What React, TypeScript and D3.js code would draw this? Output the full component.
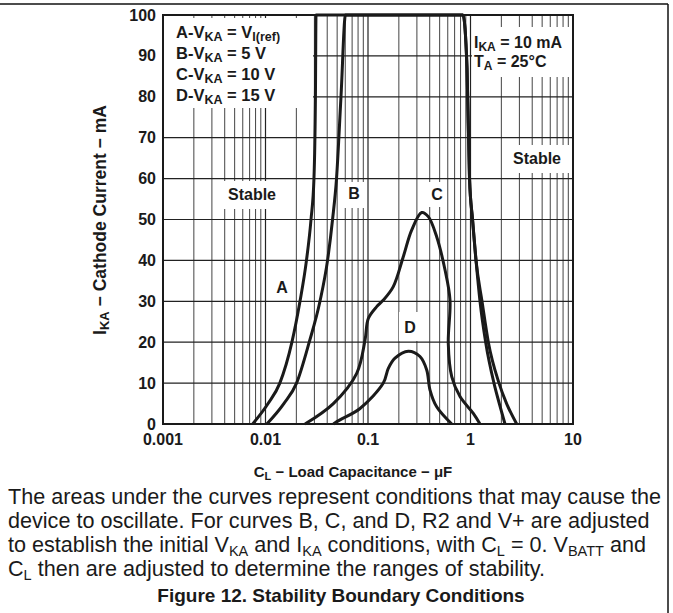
import React from 'react';
import * as d3 from 'd3';

// tick values
const xTickValues = [0.001, 0.01, 0.1, 1, 10];
const xTickLabels = ['0.001', '0.01', '0.1', '1', '10'];
const yTickValues = [0, 10, 20, 30, 40, 50, 60, 70, 80, 90, 100];

// curves: [capacitance uF, I_KA mA]
const curveA: [number, number][] = [
  [0.0075, 0], [0.0106, 5], [0.0138, 10], [0.0181, 20], [0.0217, 30], [0.0251, 40],
  [0.0278, 50], [0.0297, 60], [0.0307, 80], [0.0311, 100], [0.845, 100], [0.925, 87],
  [0.978, 60], [1.047, 50], [1.132, 40], [1.295, 30], [1.493, 20], [1.897, 10],
  [2.25, 5], [2.825, 0],
];
const curveB: [number, number][] = [
  [0.0103, 0], [0.0151, 5], [0.0201, 10], [0.0267, 20], [0.034, 30], [0.0403, 40],
  [0.0451, 50], [0.0493, 60], [0.0545, 80], [0.0603, 100], [0.845, 100], [0.925, 87],
  [0.978, 60], [1.047, 50], [1.132, 40], [1.238, 30], [1.406, 20], [1.694, 10],
  [1.91, 5], [2.17, 0],
];
const curveC: [number, number][] = [
  [0.0243, 0], [0.0459, 5], [0.0776, 12.4], [0.0935, 20.5], [0.1007, 25.8],
  [0.1216, 28.7], [0.141, 30.3], [0.1765, 33.6], [0.2209, 40.9], [0.2667, 47.4],
  [0.3342, 51.7], [0.3874, 50.7], [0.4677, 45.8], [0.5638, 37.7], [0.631, 30.3],
  [0.607, 19.7], [0.656, 11.6], [0.79, 6.7], [1.065, 2.6], [1.238, 0],
];
const curveD: [number, number][] = [
  [0.0459, 0], [0.0533, 1], [0.0836, 3.8], [0.141, 10], [0.1578, 13.6], [0.1834, 16.1],
  [0.2473, 17.8], [0.3215, 16.5], [0.3741, 13.2], [0.4028, 8.3], [0.4677, 4.2],
  [0.6561, 0],
];

type Seg = { t: string; sub?: boolean };

const legendLeft: Seg[][] = [
  [{ t: 'A-V' }, { t: 'KA', sub: true }, { t: ' = V' }, { t: 'I(ref)', sub: true }],
  [{ t: 'B-V' }, { t: 'KA', sub: true }, { t: ' = 5 V' }],
  [{ t: 'C-V' }, { t: 'KA', sub: true }, { t: ' = 10 V' }],
  [{ t: 'D-V' }, { t: 'KA', sub: true }, { t: ' = 15 V' }],
];
const legendRight: Seg[][] = [
  [{ t: 'I' }, { t: 'KA', sub: true }, { t: ' = 10 mA' }],
  [{ t: 'T' }, { t: 'A', sub: true }, { t: ' = 25°C' }],
];

const captionLines: Seg[][] = [
  [{ t: 'The areas under the curves represent conditions that may cause the' }],
  [{ t: 'device to oscillate. For curves B, C, and D, R2 and V+ are adjusted' }],
  [
    { t: 'to establish the initial V' }, { t: 'KA', sub: true }, { t: ' and I' },
    { t: 'KA', sub: true }, { t: ' conditions, with C' }, { t: 'L', sub: true },
    { t: ' = 0. V' }, { t: 'BATT', sub: true }, { t: ' and' },
  ],
  [{ t: 'C' }, { t: 'L', sub: true }, { t: ' then are adjusted to determine the ranges of stability.' }],
];

const FONT = 'Arial, "Liberation Sans", Helvetica, sans-serif';

function Rich({ x, y, segs, size, subSize, shift, weight = 'bold', anchor = 'start', transform }: {
  x: number; y: number; segs: Seg[]; size: number; subSize: number; shift: number;
  weight?: string; anchor?: string; transform?: string;
}) {
  let down = false;
  return (
    <text x={x} y={y} fontSize={size} fontWeight={weight} fontFamily={FONT}
      textAnchor={anchor} fill="#1a1a1a" transform={transform}>
      {segs.map((s, i) => {
        let dy = 0;
        if (s.sub && !down) { dy = shift; down = true; }
        else if (!s.sub && down) { dy = -shift; down = false; }
        return (
          <tspan key={i} dy={dy} fontSize={s.sub ? subSize : size}>{s.t}</tspan>
        );
      })}
    </text>
  );
}

const App: React.FC = () => {
  const width = 673;
  const height = 613;
  const left = 163, right = 573, top = 15, bottom = 424;

  const x = d3.scaleLog().domain([0.001, 10]).range([left, right]);
  const y = d3.scaleLinear().domain([0, 100]).range([bottom, top]);

  // minor and decade grid values
  const minor: number[] = [];
  for (let d = -3; d < 1; d++) {
    for (let k = 2; k <= 9; k++) minor.push(k * Math.pow(10, d));
  }

  const mono = d3.line<[number, number]>()
    .x(d => x(d[0])).y(d => y(d[1])).curve(d3.curveMonotoneX);
  const smooth = d3.line<[number, number]>()
    .x(d => x(d[0])).y(d => y(d[1])).curve(d3.curveCatmullRom.alpha(0.5));

  // white boxes behind labels (hide grid)
  const boxes = [
    { x: 164, y: 18, w: 149, h: 90 },
    { x: 472, y: 27, w: 100, h: 50 },
    { x: 224, y: 181, w: 55, h: 28 },
    { x: 344, y: 182, w: 20, h: 26 },
    { x: 427, y: 182, w: 20, h: 25 },
    { x: 271, y: 269, w: 22, h: 31 },
    { x: 399, y: 312, w: 22, h: 29 },
    { x: 508, y: 145, w: 64, h: 28 },
  ];

  const lbl = (t: string, cx: number, cy: number) => (
    <text x={cx} y={cy + 6} fontSize={16} fontWeight="bold" fontFamily={FONT}
      textAnchor="middle" fill="#1a1a1a">{t}</text>
  );

  return (
    <svg width={width} height={height}
      style={{ position: 'absolute', left: 0, top: 0, background: '#fff' }}>
      {/* outer frame */}
      <line x1={0} x2={668} y1={4} y2={4} stroke="#111" strokeWidth={1.5} />
      <line x1={668} x2={668} y1={4} y2={613} stroke="#111" strokeWidth={1.5} />

      {/* grid */}
      {minor.map(v => (
        <line key={'m' + v} x1={x(v)} x2={x(v)} y1={top} y2={bottom} stroke="#444" strokeWidth={1} />
      ))}
      {xTickValues.map(v => (
        <line key={'M' + v} x1={x(v)} x2={x(v)} y1={top} y2={bottom} stroke="#222" strokeWidth={1.2} />
      ))}
      {yTickValues.map(v => (
        <line key={'h' + v} x1={left} x2={right} y1={y(v)} y2={y(v)} stroke="#222" strokeWidth={1.2} />
      ))}

      {boxes.map((b, i) => (
        <rect key={'b' + i} x={b.x} y={b.y} width={b.w} height={b.h} fill="#fff" />
      ))}

      {/* curves */}
      <path d={mono(curveA) || ''} fill="none" stroke="#1a1a1a" strokeWidth={3} strokeLinejoin="round" />
      <path d={mono(curveB) || ''} fill="none" stroke="#1a1a1a" strokeWidth={3} strokeLinejoin="round" />
      <path d={smooth(curveC) || ''} fill="none" stroke="#1a1a1a" strokeWidth={3} strokeLinejoin="round" />
      <path d={smooth(curveD) || ''} fill="none" stroke="#1a1a1a" strokeWidth={3} strokeLinejoin="round" />

      {/* plot frame */}
      <rect x={left} y={top} width={right - left} height={bottom - top}
        fill="none" stroke="#1a1a1a" strokeWidth={2} />

      {/* tick labels */}
      {yTickValues.map(v => (
        <text key={'yt' + v} x={156} y={y(v) + 5.5} fontSize={16} fontWeight="bold"
          fontFamily={FONT} textAnchor="end" fill="#1a1a1a">{v}</text>
      ))}
      {xTickValues.map((v, i) => (
        <text key={'xt' + v} x={x(v)} y={445} fontSize={16} fontWeight="bold"
          fontFamily={FONT} textAnchor="middle" fill="#1a1a1a">{xTickLabels[i]}</text>
      ))}

      {/* legends */}
      {legendLeft.map((segs, i) => (
        <Rich key={'ll' + i} x={176} y={38 + i * 21} segs={segs} size={16.5} subSize={12.5} shift={3} />
      ))}
      {legendRight.map((segs, i) => (
        <Rich key={'lr' + i} x={474} y={47.5 + i * 19} segs={segs} size={16} subSize={12} shift={3} />
      ))}

      {/* region labels */}
      {lbl('Stable', 252, 194)}
      {lbl('B', 354, 193)}
      {lbl('C', 437, 194)}
      {lbl('A', 282, 287)}
      {lbl('D', 410, 327)}
      {lbl('Stable', 537, 158)}

      {/* axis titles */}
      <Rich x={0} y={0} transform="translate(106,220) rotate(-90)" anchor="middle"
        segs={[{ t: 'I' }, { t: 'KA', sub: true }, { t: ' − Cathode Current − mA' }]}
        size={17.5} subSize={13} shift={3} />
      <Rich x={353} y={477} anchor="middle"
        segs={[{ t: 'C' }, { t: 'L', sub: true }, { t: ' − Load Capacitance − μF' }]}
        size={15} subSize={11} shift={3} />

      {/* caption */}
      {captionLines.map((segs, i) => (
        <Rich key={'c' + i} x={8} y={503.5 + i * 24.3} segs={segs} size={21.6} subSize={14.5}
          shift={3.5} weight="normal" />
      ))}
      <text x={341} y={602} fontSize={19} fontWeight="bold" fontFamily={FONT}
        textAnchor="middle" fill="#1a1a1a">Figure 12. Stability Boundary Conditions</text>
    </svg>
  );
};

export default App;
